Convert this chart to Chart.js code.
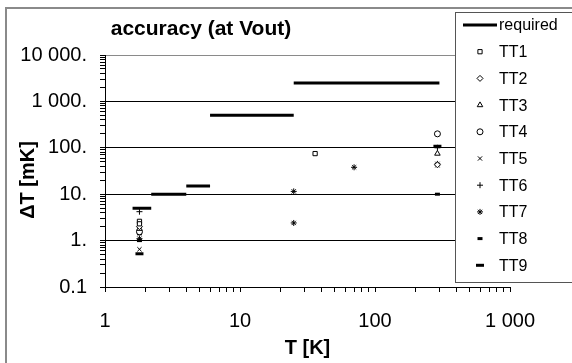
<!DOCTYPE html>
<html><head><meta charset="utf-8">
<script src="https://cdn.jsdelivr.net/npm/chart.js@4.4.1/dist/chart.umd.min.js"></script>
<style>html,body{margin:0;padding:0;background:#fff;overflow:hidden}#wrap{position:relative;width:572px;height:363px}</style>
</head><body><div id="wrap"><canvas id="c" width="572" height="363"></canvas></div>
<script>
// ---- data ----
const chartTitle = 'accuracy (at Vout)';
const xAxisTitle = 'T [K]';
const yAxisTitle = 'ΔT [mK]';
const xTickValues = [1, 10, 100, 1000];
const xTickLabels = ['1', '10', '100', '1 000'];
const yTickValues = [0.1, 1, 10, 100, 1000, 10000];
const yTickLabels = ['0.1', '1.', '10.', '100.', '1 000.', '10 000.'];

const requiredX = [[1.6, 2.2], [2.2, 4], [4, 6], [6, 25], [25, 300]];
const requiredY = [5, 10, 15, 500, 2500];

const seriesNames = ['TT1', 'TT2', 'TT3', 'TT4', 'TT5', 'TT6', 'TT7', 'TT8', 'TT9'];
const tt1X = [1.8, 1.8, 36];   const tt1Y = [2.6, 2.3, 75];
const tt2X = [1.8, 290];  const tt2Y = [2.0, 43];
const tt3X = [1.8, 290];  const tt3Y = [1.8, 75];
const tt4X = [1.8, 290];  const tt4Y = [1.55, 200];
const tt5X = [1.8, 290];  const tt5Y = [0.65, 42];
const tt6X = [1.8, 290];  const tt6Y = [4.2, 100];
const tt7X = [1.8, 25, 25, 70, 290]; const tt7Y = [1.1, 11.5, 2.4, 38, 45];
const tt8X = [1.8, 1.8, 290]; const tt8Y = [1.4, 1.0, 10];
const tt9X = [1.8, 290];  const tt9Y = [0.52, 108];

// ---- build ----
const FONT = "'Liberation Sans', Arial, sans-serif";
function pts(xs, ys) { return xs.map((x, i) => ({x: x, y: ys[i]})); }
const reqData = [];
requiredX.forEach((seg, i) => {
  reqData.push({x: seg[0], y: requiredY[i]}, {x: seg[1], y: requiredY[i]});
  if (i < requiredX.length - 1) reqData.push({x: seg[1], y: null});
});
const seriesX = [tt1X, tt2X, tt3X, tt4X, tt5X, tt6X, tt7X, tt8X, tt9X];
const seriesY = [tt1Y, tt2Y, tt3Y, tt4Y, tt5Y, tt6Y, tt7Y, tt8Y, tt9Y];
const styles = [
  {pointStyle: 'rect', pointRadius: 3, borderWidth: 1},
  {pointStyle: 'rectRot', pointRadius: 3, borderWidth: 1},
  {pointStyle: 'triangle', pointRadius: 3.2, borderWidth: 1},
  {pointStyle: 'circle', pointRadius: 3, borderWidth: 1},
  {pointStyle: 'crossRot', pointRadius: 3, borderWidth: 1},
  {pointStyle: 'cross', pointRadius: 3, borderWidth: 1},
  {pointStyle: 'star', pointRadius: 3, borderWidth: 1},
  {pointStyle: 'line', pointRadius: 2.5, borderWidth: 3},
  {pointStyle: 'line', pointRadius: 4, borderWidth: 3}
];
const datasets = [{
  label: 'required', data: reqData, showLine: true, spanGaps: false,
  borderColor: '#000', borderWidth: 3, pointRadius: 0, backgroundColor: '#000'
}];
seriesNames.forEach((n, i) => {
  datasets.push(Object.assign({
    label: n, data: pts(seriesX[i], seriesY[i]), showLine: false,
    borderColor: '#000', backgroundColor: '#fff', pointHoverRadius: 3
  }, styles[i]));
});

function logTicks(min, max) {
  const out = [];
  for (let e = Math.round(Math.log10(min)); e <= Math.round(Math.log10(max)); e++) {
    for (let m = 1; m <= 9; m++) {
      const v = +(m * Math.pow(10, e)).toPrecision(6);
      if (v >= min && v <= max) out.push({value: v, major: m === 1});
    }
  }
  return out;
}

const framePlugin = {
  id: 'frame',
  beforeDraw(chart) {
    const ctx = chart.ctx;
    ctx.save();
    ctx.fillStyle = '#fff';
    ctx.fillRect(0, 0, chart.width, chart.height);
    ctx.strokeStyle = '#8a8a8a';
    ctx.lineWidth = 2;
    ctx.beginPath();
    ctx.moveTo(6, chart.height + 2); ctx.lineTo(6, 8); ctx.lineTo(chart.width + 2, 8);
    ctx.stroke();
    ctx.restore();
  },
  afterDraw(chart) {
    const ctx = chart.ctx;
    ctx.save();
    ctx.fillStyle = '#000';
    // title
    ctx.font = 'bold 21px ' + FONT;
    ctx.textAlign = 'center'; ctx.textBaseline = 'middle';
    ctx.fillText(chartTitle, 201, 29);
    // y axis title
    ctx.save();
    ctx.translate(28, 180);
    ctx.rotate(-Math.PI / 2);
    ctx.font = 'bold 20px ' + FONT;
    ctx.fillText(yAxisTitle, 0, 0);
    ctx.restore();
    // legend
    const L = 455, T = 12, R = 580, B = 282;
    ctx.fillStyle = '#fff';
    ctx.fillRect(L, T, R - L, B - T);
    ctx.strokeStyle = '#555';
    ctx.lineWidth = 1;
    ctx.strokeRect(L + 0.5, T + 0.5, R - L, B - T);
    ctx.font = '16px ' + FONT;
    ctx.textAlign = 'left';
    chart.data.datasets.forEach((ds, i) => {
      const y = 25 + i * 26.7;
      ctx.fillStyle = '#000';
      ctx.strokeStyle = '#000';
      if (i === 0) {
        ctx.lineWidth = 3;
        ctx.beginPath(); ctx.moveTo(463, y); ctx.lineTo(497, y); ctx.stroke();
      } else {
        ctx.lineWidth = ds.borderWidth;
        ctx.fillStyle = ds.backgroundColor;
        Chart.helpers.drawPoint(ctx, {pointStyle: ds.pointStyle, radius: ds.pointRadius, borderWidth: ds.borderWidth, rotation: 0}, 480, y);
      }
      ctx.fillStyle = '#000';
      ctx.fillText(ds.label, 499, y + 1);
    });
    ctx.restore();
  }
};

new Chart(document.getElementById('c'), {
  type: 'scatter',
  data: {datasets: datasets},
  plugins: [framePlugin],
  options: {
    responsive: false, animation: false,
    layout: {padding: {left: 0, right: 62, top: 55, bottom: 0}},
    plugins: {legend: {display: false}, tooltip: {enabled: false}, title: {display: false}},
    scales: {
      x: {
        type: 'logarithmic', min: 1, max: 1000, position: 'bottom',
        afterBuildTicks: s => { s.ticks = logTicks(1, 1000); },
        afterFit: s => { s.height = 76; },
        grid: {drawOnChartArea: false, tickColor: '#000', tickLength: 5, lineWidth: 1},
        border: {color: '#000', width: 1},
        ticks: {
          autoSkip: false, maxRotation: 0, color: '#000', padding: 17,
          font: {family: FONT, size: 20},
          callback: (v) => { const k = xTickValues.indexOf(v); return k >= 0 ? xTickLabels[k] : ''; }
        },
        title: {display: true, text: xAxisTitle, color: '#000', font: {family: FONT, size: 20, weight: 'bold'}, padding: {top: 0, bottom: 3}}
      },
      y: {
        type: 'logarithmic', min: 0.1, max: 10000, position: 'left',
        afterBuildTicks: s => { s.ticks = logTicks(0.1, 10000); },
        afterFit: s => { s.width = 105; },
        grid: {
          color: c => { const v = c.tick && c.tick.value; const k = yTickValues.indexOf(v); return k < 0 ? 'rgba(0,0,0,0)' : (v === 10000 ? '#8a8a8a' : '#000'); },
          tickColor: '#000', tickLength: 5, lineWidth: 1
        },
        border: {color: '#000', width: 1},
        ticks: {
          autoSkip: false, color: '#000', padding: 13,
          font: {family: FONT, size: 20},
          callback: (v) => { const k = yTickValues.indexOf(v); return k >= 0 ? yTickLabels[k] : ''; }
        },
        title: {display: false}
      }
    }
  }
});
</script>
</body></html>
